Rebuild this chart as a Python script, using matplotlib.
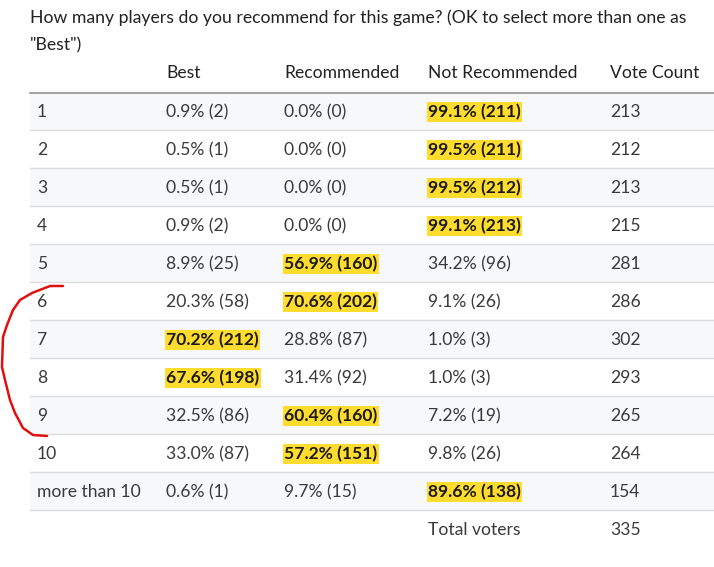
import matplotlib
matplotlib.use("Agg")
import matplotlib.pyplot as plt

title_lines = ["How many players do you recommend for this game? (OK to select more than one as",
               "\"Best\")"]
headers = ["", "Best", "Recommended", "Not Recommended", "Vote Count"]
player_counts = ["1", "2", "3", "4", "5", "6", "7", "8", "9", "10", "more than 10"]
best_pct = [0.9, 0.5, 0.5, 0.9, 8.9, 20.3, 70.2, 67.6, 32.5, 33.0, 0.6]
best_n = [2, 1, 1, 2, 25, 58, 212, 198, 86, 87, 1]
rec_pct = [0.0, 0.0, 0.0, 0.0, 56.9, 70.6, 28.8, 31.4, 60.4, 57.2, 9.7]
rec_n = [0, 0, 0, 0, 160, 202, 87, 92, 160, 151, 15]
notrec_pct = [99.1, 99.5, 99.5, 99.1, 34.2, 9.1, 1.0, 1.0, 7.2, 9.8, 89.6]
notrec_n = [211, 211, 212, 213, 96, 26, 3, 3, 19, 26, 138]
vote_count = [213, 212, 213, 215, 281, 286, 302, 293, 265, 264, 154]
total_voters = 335

W, H = 714, 567
fig = plt.figure(figsize=(W / 100, H / 100), dpi=100)
ax = fig.add_axes([0, 0, 1, 1])
ax.set_xlim(0, W)
ax.set_ylim(H, 0)
ax.axis("off")

FONT = "Lato"
FS = 12.6
TFS = 12.7
TXT = "#3a3a3a"
col_x = [37, 166, 284, 428, 610]
left, right = 30, W
row0 = 111
rh = 38

# title
ax.text(30, 18, title_lines[0], fontsize=TFS, family=FONT, color="#222222", va="center")
ax.text(30, 45, title_lines[1], fontsize=TFS, family=FONT, color="#222222", va="center")

# headers
for x, h in zip(col_x, headers):
    ax.text(x, 73, h, fontsize=FS, family=FONT, color="#222222", va="center")

n_rows = len(player_counts) + 1
for i in range(n_rows):
    yc = row0 + rh * i
    if i % 2 == 0 and i < len(player_counts):
        ax.add_patch(plt.Rectangle((left, yc - rh / 2), right - left, rh,
                                   facecolor="#f7f8fa", edgecolor="none", zorder=0))
    if i < len(player_counts):
        ax.plot([left, right], [yc + rh / 2, yc + rh / 2], color="#dcdcdc", lw=1.0, zorder=1)

ax.plot([left, right], [93, 93], color="#9a9a9a", lw=1.3, zorder=2)

for i, p in enumerate(player_counts):
    yc = row0 + rh * i + 1
    vals = [best_pct[i], rec_pct[i], notrec_pct[i]]
    ns = [best_n[i], rec_n[i], notrec_n[i]]
    hi = vals.index(max(vals))
    ax.text(col_x[0], yc, p, fontsize=FS, family=FONT, color=TXT, va="center")
    for j in range(3):
        s = f"{vals[j]:.1f}% ({ns[j]})"
        if j == hi:
            ax.text(col_x[j + 1], yc, s, fontsize=FS, family=FONT, color="#1a1a1a",
                    weight="bold", va="center",
                    bbox=dict(boxstyle="square,pad=0.08", facecolor="#ffdc2e", edgecolor="none"))
        else:
            ax.text(col_x[j + 1], yc, s, fontsize=FS, family=FONT, color=TXT, va="center")
    ax.text(col_x[4], yc, str(vote_count[i]), fontsize=FS, family=FONT, color=TXT, va="center")

yt = row0 + rh * len(player_counts) + 1
ax.text(col_x[3], yt, "Total voters", fontsize=FS, family=FONT, color=TXT, va="center")
ax.text(col_x[4], yt, str(total_voters), fontsize=FS, family=FONT, color=TXT, va="center")

# hand-drawn red bracket annotation
bx = [63, 50, 32, 20, 13, 7, 3, 2, 5, 10, 15, 23, 33, 47]
by = [286, 286, 293, 300, 310, 325, 337, 367, 380, 400, 413, 428, 435, 436]
ax.plot(bx, by, color="#e01010", lw=1.8, solid_capstyle="round", solid_joinstyle="round", zorder=5)

fig.savefig("out.png", dpi=100, facecolor="white")
